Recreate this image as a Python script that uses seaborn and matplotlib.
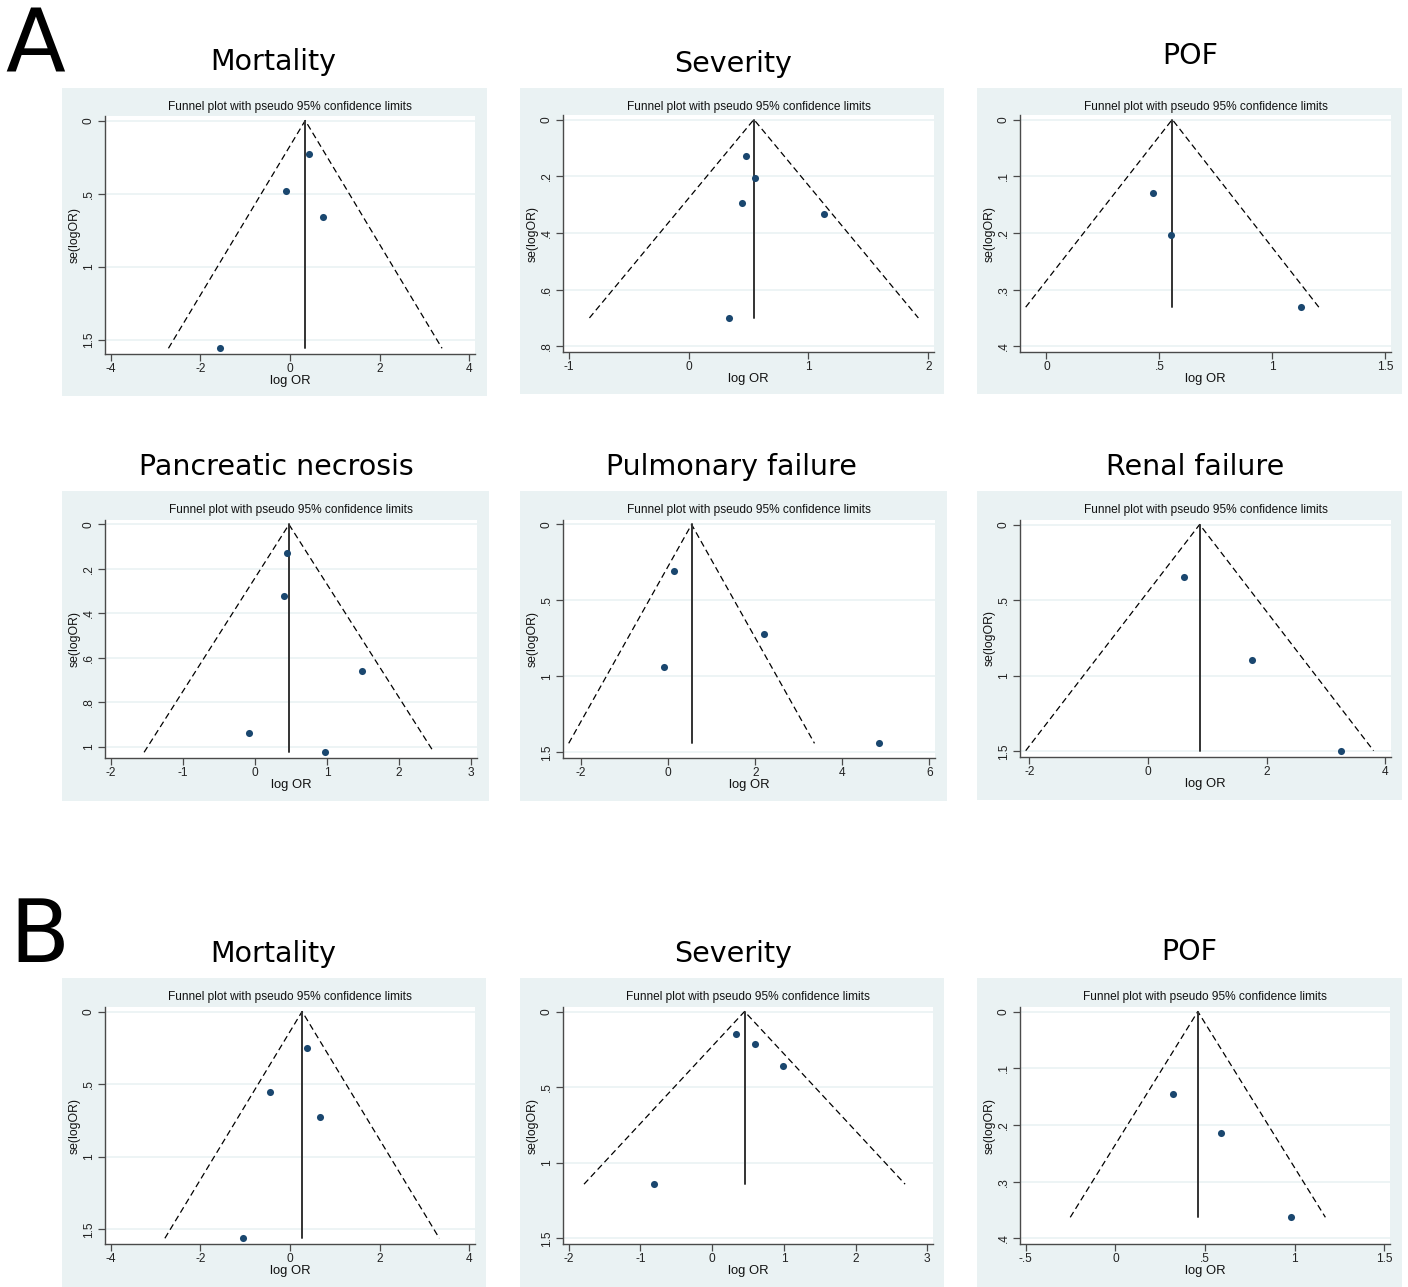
import matplotlib
matplotlib.use("Agg")
import numpy as np
import pandas as pd
import matplotlib.pyplot as plt
from matplotlib.patches import Rectangle
from matplotlib.ticker import FixedLocator, FuncFormatter
import seaborn as sns

# ---------------- study estimates: log odds ratio and its standard error ----------------
# Panel A
a_mortality_logor = [0.43, -0.10, 0.73, -1.56]
a_mortality_se = [0.227, 0.480, 0.660, 1.557]
a_mortality_pooled = 0.34

a_severity_logor = [0.475, 0.553, 0.447, 1.134, 0.338]
a_severity_se = [0.128, 0.205, 0.293, 0.332, 0.700]
a_severity_pooled = 0.545

a_pof_logor = [0.472, 0.553, 1.128]
a_pof_se = [0.129, 0.2035, 0.331]
a_pof_pooled = 0.557

a_necrosis_logor = [0.44, 0.398, 1.485, -0.088, 0.976]
a_necrosis_se = [0.130, 0.320, 0.659, 0.936, 1.025]
a_necrosis_pooled = 0.472

a_pulmonary_logor = [0.13, 2.19, -0.10, 4.85]
a_pulmonary_se = [0.303, 0.724, 0.939, 1.441]
a_pulmonary_pooled = 0.537

a_renal_logor = [0.61, 1.75, 3.26]
a_renal_se = [0.346, 0.896, 1.496]
a_renal_pooled = 0.87

# Panel B
b_mortality_logor = [0.39, -0.45, 0.66, -1.05]
b_mortality_se = [0.250, 0.556, 0.724, 1.562]
b_mortality_pooled = 0.27

b_severity_logor = [0.326, 0.596, 0.987, -0.815]
b_severity_se = [0.146, 0.215, 0.363, 1.142]
b_severity_pooled = 0.452

b_pof_logor = [0.320, 0.592, 0.981]
b_pof_se = [0.145, 0.214, 0.363]
b_pof_pooled = 0.46

# ---------------- axis ticks ----------------
titles = ["Mortality", "Severity", "POF",
          "Pancreatic necrosis", "Pulmonary failure", "Renal failure",
          "Mortality", "Severity", "POF"]
xticks = [[-4, -2, 0, 2, 4], [-1, 0, 1, 2], [0, 0.5, 1, 1.5],
          [-2, -1, 0, 1, 2, 3], [-2, 0, 2, 4, 6], [-2, 0, 2, 4],
          [-4, -2, 0, 2, 4], [-2, -1, 0, 1, 2, 3], [-0.5, 0, 0.5, 1, 1.5]]
yticks = [[0, 0.5, 1, 1.5], [0, 0.2, 0.4, 0.6, 0.8], [0, 0.1, 0.2, 0.3, 0.4],
          [0, 0.2, 0.4, 0.6, 0.8, 1], [0, 0.5, 1, 1.5], [0, 0.5, 1, 1.5],
          [0, 0.5, 1, 1.5], [0, 0.5, 1, 1.5], [0, 0.1, 0.2, 0.3, 0.4]]

studies = [
    (a_mortality_logor, a_mortality_se, a_mortality_pooled),
    (a_severity_logor, a_severity_se, a_severity_pooled),
    (a_pof_logor, a_pof_se, a_pof_pooled),
    (a_necrosis_logor, a_necrosis_se, a_necrosis_pooled),
    (a_pulmonary_logor, a_pulmonary_se, a_pulmonary_pooled),
    (a_renal_logor, a_renal_se, a_renal_pooled),
    (b_mortality_logor, b_mortality_se, b_mortality_pooled),
    (b_severity_logor, b_severity_se, b_severity_pooled),
    (b_pof_logor, b_pof_se, b_pof_pooled),
]

# ---------------- layout (pixels) ----------------
W, H = 1408, 1287
graph_boxes = [(62, 88, 487, 396), (520, 88, 944, 394), (977, 88, 1402, 394),
               (62, 491, 489, 801), (520, 491, 947, 801), (977, 491, 1402, 800),
               (62, 978, 486, 1287), (520, 978, 944, 1287), (977, 978, 1402, 1287)]
plot_boxes = [(105, 116, 475, 354), (563, 115, 934, 352), (1020, 115, 1391, 352),
              (105, 520, 477, 758), (563, 520, 935, 758), (1020, 520, 1391, 757),
              (105, 1007, 475, 1244), (563, 1007, 933, 1244), (1020, 1007, 1390, 1244)]
title_pos = [(273, 70), (733, 72), (1190, 64),
             (276, 475), (731, 475), (1195, 475),
             (273, 962), (733, 962), (1189, 960)]

BG = "#EAF2F3"
NAVY = "#1A476F"
AXIS = "#4a4a4a"

sns.set_theme(style="white")
plt.rcParams["font.family"] = ["Liberation Sans", "DejaVu Sans"]


def stata_num(v, _pos=None):
    s = f"{v:g}"
    if s.startswith("0.") and len(s) > 2:
        s = s[1:]
    elif s.startswith("-0.") and len(s) > 3:
        s = "-" + s[2:]
    return s


fig = plt.figure(figsize=(W / 100, H / 100), dpi=100)
fig.patch.set_facecolor("white")

for i, ((logor, se, pooled), gbox, pbox) in enumerate(zip(studies, graph_boxes, plot_boxes)):
    gx0, gy0, gx1, gy1 = gbox
    fig.patches.append(Rectangle((gx0 / W, 1 - gy1 / H), (gx1 - gx0) / W, (gy1 - gy0) / H,
                                 transform=fig.transFigure, facecolor=BG,
                                 edgecolor="none", zorder=-10))
    px0, py0, px1, py1 = pbox
    ax = fig.add_axes([px0 / W, 1 - py1 / H, (px1 - px0) / W, (py1 - py0) / H])
    ax.set_facecolor("white")

    df = pd.DataFrame({"logor": logor, "se": se})
    se_max = max(se)
    lo, hi = pooled - 1.96 * se_max, pooled + 1.96 * se_max

    # pseudo 95% confidence limits and the pooled estimate
    ax.plot([lo, pooled, hi], [se_max, 0, se_max], color="black", lw=0.9,
            linestyle=(0, (5, 3)), zorder=3)
    ax.plot([pooled, pooled], [0, se_max], color="#333333", lw=1.4, zorder=3)
    sns.scatterplot(data=df, x="logor", y="se", ax=ax, color=NAVY, s=26,
                    edgecolor=NAVY, linewidth=0, zorder=4, legend=False)

    # axis ranges: ticks and data, plus a fixed margin in pixels
    xt, yt = xticks[i], yticks[i]
    xr0 = min(xt[0], lo, min(logor)); xr1 = max(xt[-1], hi, max(logor))
    yr0 = 0.0; yr1 = max(yt[-1], se_max)
    wpx, hpx = px1 - px0, py1 - py0
    padx = 5.7 * (xr1 - xr0) / (wpx - 11.4)
    pady_b = 5.7 * (yr1 - yr0) / (hpx - 10.2)
    pady_t = 4.5 * (yr1 - yr0) / (hpx - 10.2)
    ax.set_xlim(xr0 - padx, xr1 + padx)
    ax.set_ylim(yr1 + pady_b, yr0 - pady_t)

    ax.xaxis.set_major_locator(FixedLocator(xt))
    ax.yaxis.set_major_locator(FixedLocator(yt))
    ax.xaxis.set_major_formatter(FuncFormatter(stata_num))
    ax.yaxis.set_major_formatter(FuncFormatter(stata_num))
    ax.grid(False)
    for yv in yt:
        ax.axhline(yv, color=BG, lw=1.2, zorder=1)

    for side in ("top", "right"):
        ax.spines[side].set_visible(False)
    for side in ("left", "bottom"):
        ax.spines[side].set_color(AXIS)
        ax.spines[side].set_linewidth(1.0)
    ax.tick_params(axis="both", which="major", direction="out", length=5, width=0.9,
                   color=AXIS, labelsize=8.6, labelcolor="#222222",
                   bottom=True, left=True, pad=1.5)
    ax.tick_params(axis="y", labelrotation=90, pad=2.5)
    for lab in ax.get_yticklabels():
        lab.set_va("center")

    ax.set_xlabel("log OR", fontsize=9.4, labelpad=0, color="#111111")
    ax.set_ylabel("se(logOR)", fontsize=8.8, labelpad=1.5, color="#111111")

    # inner graph title
    fig.text(((px0 + px1) / 2) / W, 1 - (gy0 + 19) / H,
             "Funnel plot with pseudo 95% confidence limits", ha="center", va="center",
             fontsize=8.6, color="#111111")

    # outer panel heading
    tx, ty = title_pos[i]
    fig.text(tx / W, 1 - ty / H, titles[i], ha="center", va="baseline",
             fontsize=20.5, family="DejaVu Sans", color="black")

fig.text(5 / W, 1 - 72 / H, "A", ha="left", va="baseline", fontsize=63,
         family="DejaVu Sans", color="black")
fig.text(9 / W, 1 - 962 / H, "B", ha="left", va="baseline", fontsize=63,
         family="DejaVu Sans", color="black")

fig.savefig("out.png", dpi=100, facecolor="white")
